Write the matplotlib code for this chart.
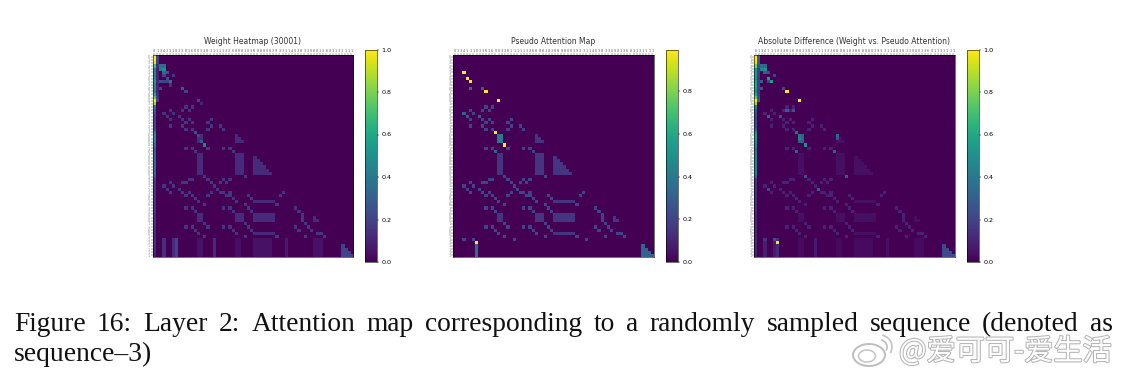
import numpy as np
import matplotlib
matplotlib.use("Agg")
import matplotlib.pyplot as plt
import matplotlib.patheffects as pe
from matplotlib.patches import Ellipse, Arc

W, H = 1131, 377
N = 64

titles = ["Weight Heatmap (30001)", "Pseudo Attention Map",
          "Absolute Difference (Weight vs. Pseudo Attention)"]
token_labels = list("0134111033816003381111133688810388880039331140383300013601131111")
bar_ticks = [0, .2, .4, .6, .8, 1.0]
caption_1 = "Figure 16: Layer 2: Attention map corresponding to a randomly sampled sequence (denoted as"
caption_2 = "sequence\u20133)"
watermark = "@爱可可-爱生活"

# (row, col) of the small diagonal dots seen in all three maps
lattice = [
    (16, 10), (16, 12), (17, 9), (17, 11), (17, 5), (18, 6), (18, 3), (19, 4), (20, 5), (19, 8),
    (20, 9), (20, 11), (21, 10), (21, 12), (22, 5), (22, 9), (23, 10), (23, 12), (20, 18), (21, 17),
    (22, 18), (23, 17), (22, 21), (23, 22), (29, 10), (29, 12), (30, 13), (29, 17), (29, 22), (29, 24),
    (30, 25), (38, 16), (38, 29), (39, 17), (39, 11), (39, 12), (40, 10), (40, 9), (39, 22), (39, 24),
    (40, 21), (40, 23), (40, 18), (41, 19), (41, 3), (40, 5), (41, 6), (42, 4), (43, 5), (42, 8),
    (43, 9), (43, 11), (44, 10), (44, 12), (45, 13), (46, 14), (47, 16), (42, 20), (43, 21), (43, 22),
    (44, 23), (43, 24), (44, 24), (45, 25), (46, 26), (43, 18), (44, 17), (43, 41), (44, 40), (44, 30),
    (45, 31), (47, 29), (47, 39), (48, 30), (48, 10), (48, 12), (49, 13), (48, 22), (48, 24), (49, 25),
    (49, 31), (48, 45), (49, 46), (50, 47), (51, 47), (52, 47), (53, 48), (53, 16), (54, 17), (54, 10),
    (54, 12), (55, 13), (56, 14), (57, 16), (54, 22), (54, 24), (55, 25), (56, 26), (53, 29), (54, 30),
    (55, 31), (57, 29), (57, 39), (54, 45), (55, 46), (54, 49), (55, 50), (56, 52), (56, 53), (57, 54),
    (57, 48), (58, 42), (58, 19), (58, 3), (58, 6),
]
# blocks as (row0, row1, col0, col1), both ends included
blocks = [
    (25, 27, 14, 15), (31, 37, 14, 15), (31, 37, 26, 28), (46, 46, 32, 38), (50, 52, 14, 15),
    (50, 52, 26, 28), (50, 52, 32, 38), (56, 56, 32, 38),
]
# triangles as (row0, row1, col0), widening downward
triangles = [(25, 27, 26), (32, 37, 32), (51, 52, 51), (60, 63, 60)]

weight_col0 = [1.0, 1.0, .95, .7, .45, .45, .45, .5, .55, .5, .5, .45, .6, .75, .98, .85, .42, .3, .25, .22,
               .22, .22, .22, .25, .45, .5, .5, .45, .4, .3, .32, .35, .35, .35, .35, .35, .35, .35, .3, .18,
               .16, .16, .16, .15, .15, .15, .16, .15, .15, .15, .14, .14, .14, .14, .12, .12, .12, .12, .14, .14,
               .12, .12, .12, .1]
weight_extra = [
    (3, 2, .35), (3, 3, .35), (4, 2, .4), (4, 3, .5), (5, 3, .35), (5, 4, .25), (6, 3, .2), (6, 6, .15),
    (7, 4, .25), (8, 2, .25), (8, 3, .2), (8, 4, .2), (8, 5, .35), (9, 5, .15), (10, 2, .2), (10, 9, .3),
    (11, 10, .2), (14, 14, .2), (15, 15, .1), (24, 13, .25), (25, 14, .22), (28, 16, .45), (27, 15, .3),
]
weight_bottom = [(58, 63, 3, .14), (58, 63, 6, .12), (58, 63, 7, .2), (58, 63, 14, .05), (58, 63, 15, .05),
                 (58, 63, 19, .12), (58, 63, 26, .04), (58, 63, 27, .04), (58, 63, 32, .05), (58, 63, 33, .05),
                 (58, 63, 34, .05), (58, 63, 35, .05), (58, 63, 36, .05), (58, 63, 37, .05), (58, 63, 42, .07),
                 (58, 63, 51, .05), (58, 63, 52, .05), (58, 63, 53, .05)]

pseudo_bright = [(5, 3), (7, 4), (8, 5), (11, 10), (14, 14), (24, 13), (28, 16), (59, 7)]
pseudo_mid = [(10, 5, .35), (10, 9, .3), (30, 13, .32), (18, 3, .32), (19, 4, .3), (19, 8, .3)]

diff_col0 = [1.0, 1.0, .95, .8, .55, .55, .55, .5, .55, .6, .55, .5, .6, .75, .98, .85, .42, .3, .25, .22,
             .22, .22, .22, .3, .5, .55, .55, .5, .45, .35, .4, .42, .42, .42, .42, .42, .42, .42, .32, .15,
             .14, .14, .14, .12, .12, .12, .14, .12, .12, .12, .1, .1, .1, .1, .1, .1, .1, .1, .12, .12,
             .1, .1, .1, .08]
diff_extra = [
    (3, 2, .35), (3, 3, .35), (4, 2, .45), (4, 3, .5), (5, 3, .3), (5, 4, .25), (6, 6, .2), (7, 4, .55),
    (8, 5, .55), (8, 2, .3), (8, 4, .2), (10, 2, .25), (10, 9, .2), (11, 10, .99), (14, 14, .99), (17, 10, .3),
    (17, 12, .25), (19, 4, .3), (19, 8, .25), (24, 13, .35), (25, 14, .4), (26, 14, .45), (26, 15, .35),
    (28, 16, .5), (25, 26, .35), (26, 26, .25), (30, 25, .3), (30, 13, .3), (38, 16, .25), (38, 29, .28),
    (42, 20, .3), (42, 4, .22), (59, 7, .98), (58, 6, .25), (58, 3, .15),
]


def fill_blocks(m, level):
    for r0, r1, c0, c1 in blocks:
        m[r0:r1 + 1, c0:c1 + 1] = np.maximum(m[r0:r1 + 1, c0:c1 + 1], level)
    for r0, r1, c0 in triangles:
        for i, r in enumerate(range(r0, r1 + 1)):
            m[r, c0:c0 + i + 1] = np.maximum(m[r, c0:c0 + i + 1], level)


def weight_map():
    m = np.zeros((N, N))
    fill_blocks(m, .12)
    for r, c in lattice:
        m[r, c] = .15
    m[:, 0] = weight_col0
    m[:15, 1] = np.array(weight_col0[:15]) * .2
    for r, c, v in weight_extra:
        m[r, c] = v
    for r0, r1, c, v in weight_bottom:
        m[r0:r1 + 1, c] = v
    for r in range(60, 64):
        m[r, 60:60 + r - 59] = .2
    return m


def pseudo_map():
    m = np.zeros((N, N))
    fill_blocks(m, .15)
    for r, c in lattice:
        m[r, c] = .2
    m[25:28, 14:16] = .4
    m[60:64, 7] = .35
    for r in range(60, 64):
        m[r, 60:60 + r - 59] = .32
    for r, c, v in pseudo_mid:
        m[r, c] = v
    for r, c in pseudo_bright:
        m[r, c] = .995
    return m


def diff_map():
    m = np.zeros((N, N))
    fill_blocks(m, .04)
    for r, c in lattice:
        m[r, c] = .09
    m[:, 0] = diff_col0
    m[:15, 1] = np.array(diff_col0[:15]) * .3
    m[25:28, 14:16] = .3
    for r0, r1, c, v in weight_bottom:
        m[r0:r1 + 1, c] = v * .6
    for r in range(60, 64):
        m[r, 60:60 + r - 59] = .22
    for r, c, v in diff_extra:
        m[r, c] = v
    return m


def box(x0, y0, x1, y1):
    return [x0 / W, 1 - y1 / H, (x1 - x0) / W, (y1 - y0) / H]


fig = plt.figure(figsize=(W / 100, H / 100), dpi=100)

panels = [(weight_map(), 152.5, 353, 365, 377),
          (pseudo_map(), 453, 654, 666, 678),
          (diff_map(), 754, 955, 967, 979)]

for (m, x0, x1, cx0, cx1), title in zip(panels, titles):
    ax = fig.add_axes(box(x0, 55, x1, 257))
    # nearest keeps the single bright cells yellow, as in the reference
    im = ax.imshow(m, cmap="viridis", vmin=0, vmax=m.max(), aspect="auto", interpolation="nearest")
    ax.set_title(title, fontsize=5.5, pad=8, color="#333333")
    ax.xaxis.tick_top()
    ax.set_xticks(range(N))
    ax.set_yticks(range(N))
    ax.set_xticklabels(token_labels, fontsize=2.4, color="#555555")
    ax.set_yticklabels(token_labels, fontsize=2.4, color="#888888")
    ax.tick_params(length=1.2, width=0.25, pad=0.6)
    for s in ax.spines.values():
        s.set_linewidth(0.4)
    cax = fig.add_axes(box(cx0, 49.5, cx1, 262))
    cb = fig.colorbar(im, cax=cax)
    cb.set_ticks([t for t in bar_ticks if t <= m.max()])
    cb.ax.tick_params(labelsize=4.6, length=1.5, width=0.35, pad=1.5)
    cb.outline.set_linewidth(0.4)

# caption, words spread over the full line width like the justified original
r = fig.canvas.get_renderer()
serif = dict(family="Liberation Serif", fontsize=19.8, color="#111111", va="baseline")
words = caption_1.split(" ")
artists = [fig.text(0, 0, w, **serif) for w in words]
widths = [a.get_window_extent(r).width for a in artists]
gap = (1113 - 14 - sum(widths)) / (len(words) - 1)
x = 14
for a, w in zip(artists, widths):
    a.set_position((x / W, 1 - 331 / H))
    x += w + gap
fig.text(14 / W, 1 - 361 / H, caption_2, **serif)

# weibo style watermark
halo = [pe.withStroke(linewidth=1.5, foreground="#b5b5b5")]
fig.text(899 / W, 1 - 360 / H, watermark, family=["Noto Sans CJK SC", "DejaVu Sans"], fontsize=21,
         color="white", path_effects=halo)
logo = fig.add_axes([0, 0, 1, 1], facecolor="none")
logo.set_xlim(0, W)
logo.set_ylim(H, 0)
logo.axis("off")
logo.add_patch(Ellipse((869, 355), 32, 22, fc="white", ec="#bdbdbd", lw=1.4))
logo.add_patch(Ellipse((867, 356), 17, 12, fc="white", ec="#c4c4c4", lw=1.1))
logo.add_patch(Arc((880, 347), 14, 14, theta1=-80, theta2=30, ec="#bdbdbd", lw=1.2))
logo.add_patch(Arc((880, 347), 24, 24, theta1=-80, theta2=30, ec="#c4c4c4", lw=1.2))

fig.savefig("out.png", dpi=100)
